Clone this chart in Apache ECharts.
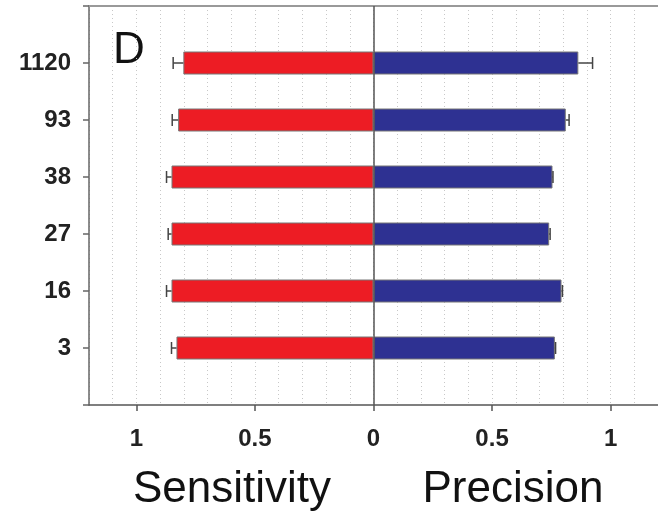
<!DOCTYPE html>
<html><head><meta charset="utf-8">
<script src="https://cdn.jsdelivr.net/npm/echarts@6/dist/echarts.min.js"></script>
<style>html,body{margin:0;padding:0;background:#fff}#c{width:658px;height:511px}</style>
</head><body><div id="c"></div>
<script>
const categories = ['3', '16', '27', '38', '93', '1120'];
const sensitivity = [0.831, 0.852, 0.852, 0.852, 0.824, 0.802];
const sensitivityErr = [0.021, 0.021, 0.014, 0.021, 0.025, 0.043];
const precision = [0.765, 0.793, 0.741, 0.755, 0.811, 0.864];
const precisionErr = [0.003, 0.004, 0.004, 0.002, 0.014, 0.060];
const xTickValues = [-1, -0.5, 0, 0.5, 1];

const axisCats = [''].concat(categories, ['']);
const font = 'Liberation Sans, Arial, sans-serif';

const chart = echarts.init(document.getElementById('c'), null, {renderer: 'canvas'});
chart.setOption({
  backgroundColor: '#fff',
  animation: false,
  grid: {left: 89, right: 0, top: 6, bottom: 106, containLabel: false},
  xAxis: [{
    type: 'value', min: -1.2, max: 1.2, interval: 0.1, position: 'bottom',
    axisLine: {show: false}, axisTick: {show: false}, axisLabel: {show: false},
    splitLine: {show: true, lineStyle: {color: '#c8c8c8', type: [1, 3], width: 1}}
  }, {
    type: 'value', min: -1.2, max: 1.2, position: 'bottom',
    axisLine: {show: true, onZero: false, lineStyle: {color: '#555', width: 1.5}},
    axisTick: {show: true, customValues: xTickValues, length: 6, lineStyle: {color: '#555', width: 1.5}},
    axisLabel: {show: true, customValues: xTickValues, formatter: v => String(Math.abs(v)),
      fontFamily: font, fontWeight: 'bold', fontSize: 24, color: '#222', margin: 22},
    splitLine: {show: false}
  }, {
    type: 'value', min: -1.2, max: 1.2, position: 'top',
    axisLine: {show: true, onZero: false, lineStyle: {color: '#999', width: 2}},
    axisTick: {show: false}, axisLabel: {show: false}, splitLine: {show: false}
  }],
  yAxis: {
    type: 'category', data: axisCats, boundaryGap: false,
    axisLine: {show: true, onZero: false, lineStyle: {color: '#666', width: 1.5}},
    axisTick: {show: true, length: 6, alignWithLabel: true, lineStyle: {color: '#666', width: 1.5}},
    axisLabel: {fontFamily: font, fontWeight: 'bold', fontSize: 24, color: '#222', margin: 18},
    splitLine: {show: false}
  },
  graphic: [
    {type: 'text', left: 113, top: 29, style: {text: 'D', font: '44px ' + font, fill: '#111'}},
    {type: 'text', x: 232, y: 490, style: {text: 'Sensitivity', font: '44px ' + font, fill: '#111', align: 'center', verticalAlign: 'middle'}},
    {type: 'text', x: 513, y: 490, style: {text: 'Precision', font: '44px ' + font, fill: '#111', align: 'center', verticalAlign: 'middle'}}
  ],
  series: [
    {
      type: 'bar', name: 'Sensitivity', barWidth: 23, barGap: '-100%',
      data: sensitivity.map((v, i) => [-v, categories[i]]),
      itemStyle: {color: '#ED1C24', borderColor: '#777', borderWidth: 1},
      markLine: {silent: true, symbol: 'none', label: {show: false},
        lineStyle: {color: '#555', type: 'solid', width: 1.5},
        data: [{xAxis: 0}]}
    },
    {
      type: 'bar', name: 'Precision', barWidth: 23, barGap: '-100%',
      data: precision.map((v, i) => [v, categories[i]]),
      itemStyle: {color: '#2E3192', borderColor: '#777', borderWidth: 1}
    },
    {
      type: 'custom', name: 'err',
      data: sensitivity.map((v, i) => [-v, categories[i], -sensitivityErr[i]])
        .concat(precision.map((v, i) => [v, categories[i], precisionErr[i]])),
      encode: {x: 0, y: 1},
      z: 3,
      renderItem: function (params, api) {
        const v = api.value(0), y = api.value(1), e = api.value(2);
        const p0 = api.coord([v, y]);
        const p1 = api.coord([v + e, y]);
        const style = {stroke: '#444', lineWidth: 1.5};
        return {type: 'group', children: [
          {type: 'line', shape: {x1: p0[0], y1: p0[1], x2: p1[0], y2: p1[1]}, style: style},
          {type: 'line', shape: {x1: p1[0], y1: p1[1] - 6, x2: p1[0], y2: p1[1] + 6}, style: style}
        ]};
      }
    }
  ]
});
</script></body></html>
